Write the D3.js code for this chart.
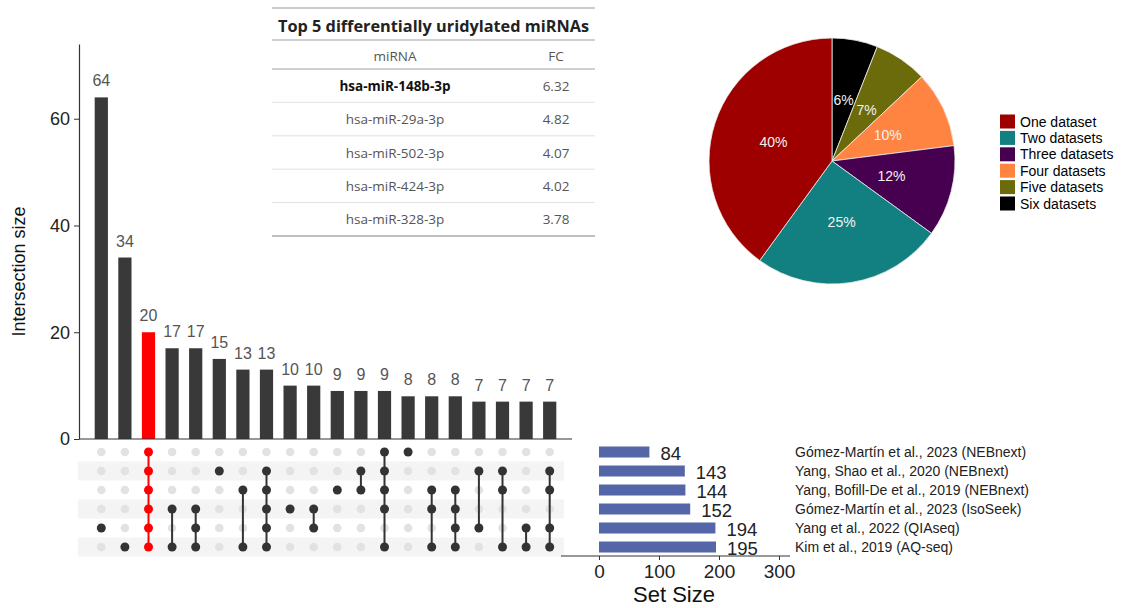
<!DOCTYPE html>
<html>
<head>
<meta charset="utf-8">
<script src="https://cdn.jsdelivr.net/npm/d3@7"></script>
<style>
  html, body { margin: 0; padding: 0; background: #fff; }
  svg { display: block; font-family: "Liberation Sans", Arial, sans-serif; }
</style>
</head>
<body>
<svg id="chart" width="1121" height="608"></svg>
<script>
// ---- data ----
const setNames = [
  "Gómez-Martín et al., 2023 (NEBnext)",
  "Yang, Shao et al., 2020 (NEBnext)",
  "Yang, Bofill-De et al., 2019 (NEBnext)",
  "Gómez-Martín et al., 2023 (IsoSeek)",
  "Yang et al., 2022 (QIAseq)",
  "Kim et al., 2019 (AQ-seq)"
];
const setSizes = [84, 143, 144, 152, 194, 195];

const intersectionSizes = [64, 34, 20, 17, 17, 15, 13, 13, 10, 10, 9, 9, 9, 8, 8, 8, 7, 7, 7, 7];
// member sets of each intersection (indices into setNames)
const intersectionMembers = [
  [4], [5], [0, 1, 2, 3, 4, 5], [3, 5], [3, 4, 5], [1], [2, 5], [1, 2, 3, 4, 5],
  [3], [3, 4], [2], [1, 2], [0, 1, 2, 3, 5], [0], [2, 3, 5], [2, 3, 4, 5],
  [1, 4], [1, 2, 5], [4, 5], [1, 2, 4, 5]
];
const highlightedIntersection = 2;
const intersectionTicks = [0, 20, 40, 60];
const setSizeTicks = [0, 100, 200, 300];

const tableTitle = "Top 5 differentially uridylated miRNAs";
const tableHeader = ["miRNA", "FC"];
const tableMiRNA = ["hsa-miR-148b-3p", "hsa-miR-29a-3p", "hsa-miR-502-3p", "hsa-miR-424-3p", "hsa-miR-328-3p"];
const tableFC = ["6.32", "4.82", "4.07", "4.02", "3.78"];

const pieLabels = ["One dataset", "Two datasets", "Three datasets", "Four datasets", "Five datasets", "Six datasets"];
const piePercents = [40, 25, 12, 10, 7, 6];
const pieColors = ["#9e0000", "#128080", "#470050", "#ff8442", "#6b6b0b", "#000000"];

// ---- layout ----
const svg = d3.select("#chart");
const barColor = "#393939";
const hiColor = "#ff0000";

// intersection bar chart
const x = d3.scaleBand().domain(d3.range(intersectionSizes.length)).range([89.5, 561.5]).padding(0);
const y = d3.scaleLinear().domain([0, 74]).range([439, 44]);
const barW = x.bandwidth() * 0.56;

const gBars = svg.append("g");
gBars.selectAll("rect").data(intersectionSizes).join("rect")
  .attr("x", (d, i) => x(i) + (x.bandwidth() - barW) / 2)
  .attr("y", d => y(d))
  .attr("width", barW)
  .attr("height", d => y(0) - y(d))
  .attr("fill", (d, i) => i === highlightedIntersection ? hiColor : barColor);
gBars.selectAll("text").data(intersectionSizes).join("text")
  .attr("x", (d, i) => x(i) + x.bandwidth() / 2)
  .attr("y", d => y(d) - 11)
  .attr("text-anchor", "middle")
  .attr("font-size", 16)
  .attr("fill", "#555")
  .text(d => d);

const yAxis = svg.append("g").attr("transform", "translate(79,0)")
  .call(d3.axisLeft(y).tickValues(intersectionTicks).tickSize(5).tickSizeOuter(0));
yAxis.select(".domain").attr("stroke", "#333").attr("stroke-width", 1.2);
yAxis.selectAll(".tick line").attr("stroke", "#333");
yAxis.selectAll(".tick text").attr("font-size", 18).attr("fill", "#222")
  .attr("font-family", "Liberation Sans, Arial, sans-serif").attr("x", -9);
// baseline of bar chart
svg.append("line").attr("x1", 79).attr("x2", 572).attr("y1", y(0)).attr("y2", y(0))
  .attr("stroke", "#333").attr("stroke-width", 1.2);

svg.append("text")
  .attr("transform", `translate(25,${(y(0) + y(74)) / 2 + 30}) rotate(-90)`)
  .attr("text-anchor", "middle").attr("font-size", 18).attr("fill", "#111")
  .text("Intersection size");

// matrix
const rowY = d3.scaleBand().domain(d3.range(setNames.length)).range([442.5, 556.5]);
const rowC = i => rowY(i) + rowY.bandwidth() / 2;
const gM = svg.append("g");
gM.selectAll("rect.stripe").data(d3.range(setNames.length).filter(i => i % 2 === 1)).join("rect")
  .attr("class", "stripe")
  .attr("x", 78).attr("width", 486)
  .attr("y", i => rowY(i)).attr("height", rowY.bandwidth())
  .attr("fill", "#f4f4f4");

intersectionMembers.forEach((mem, i) => {
  const cx = x(i) + x.bandwidth() / 2;
  const col = i === highlightedIntersection ? hiColor : "#333";
  d3.range(setNames.length).forEach(r => {
    if (!mem.includes(r)) {
      gM.append("circle").attr("cx", cx).attr("cy", rowC(r)).attr("r", 4.3).attr("fill", "#e2e2e2");
    }
  });
  if (mem.length > 1) {
    gM.append("line").attr("x1", cx).attr("x2", cx)
      .attr("y1", rowC(d3.min(mem))).attr("y2", rowC(d3.max(mem)))
      .attr("stroke", col).attr("stroke-width", 2);
  }
  mem.forEach(r => {
    gM.append("circle").attr("cx", cx).attr("cy", rowC(r)).attr("r", 4.5).attr("fill", col);
  });
});

// set size bars
const xs = d3.scaleLinear().domain([0, 300]).range([599, 779]);
const gS = svg.append("g");
gS.selectAll("rect").data(setSizes).join("rect")
  .attr("x", xs(0)).attr("y", (d, i) => rowC(i) - 5.5)
  .attr("width", d => xs(d) - xs(0)).attr("height", 11)
  .attr("fill", "#5566a8");
gS.selectAll("text.val").data(setSizes).join("text")
  .attr("class", "val")
  .attr("x", d => xs(d) + 11).attr("y", (d, i) => rowC(i) + 8)
  .attr("font-size", 18.5).attr("fill", "#222")
  .text(d => d);
gS.selectAll("text.name").data(setNames).join("text")
  .attr("class", "name")
  .attr("x", 795).attr("y", (d, i) => rowC(i) + 5)
  .attr("font-size", 14).attr("fill", "#222")
  .text(d => d);

const xsAxis = svg.append("g").attr("transform", "translate(0,556)")
  .call(d3.axisBottom(xs).tickValues(setSizeTicks).tickSize(4).tickSizeOuter(0));
xsAxis.select(".domain").remove();
xsAxis.selectAll(".tick line").attr("stroke", "#333");
xsAxis.selectAll(".tick text").attr("font-size", 19).attr("fill", "#222")
  .attr("font-family", "Liberation Sans, Arial, sans-serif").attr("y", 9);
svg.append("line").attr("x1", 561).attr("x2", 790).attr("y1", 556).attr("y2", 556)
  .attr("stroke", "#333").attr("stroke-width", 1.2);
svg.append("text").attr("x", xs(125)).attr("y", 602).attr("text-anchor", "middle")
  .attr("font-size", 22).attr("fill", "#111").text("Set Size");

// table
const gT = svg.append("g").attr("font-family", "'Open Sans', 'Noto Sans', sans-serif");
const tX0 = 272, tX1 = 595;
const colMi = 395, colFC = 556;
gT.append("rect").attr("x", tX0).attr("y", 8).attr("width", tX1 - tX0).attr("height", 228).attr("fill", "#fff");
gT.append("line").attr("x1", tX0).attr("x2", tX1).attr("y1", 8).attr("y2", 8).attr("stroke", "#bbb").attr("stroke-width", 1.5);
gT.append("text").attr("x", (tX0 + tX1) / 2).attr("y", 32).attr("text-anchor", "middle")
  .attr("font-size", 16.3).attr("font-weight", 700).attr("fill", "#222").text(tableTitle);
gT.append("line").attr("x1", tX0).attr("x2", tX1).attr("y1", 40).attr("y2", 40).attr("stroke", "#d0d0d0").attr("stroke-width", 2);
gT.append("text").attr("x", colMi).attr("y", 61).attr("text-anchor", "middle")
  .attr("font-size", 13.5).attr("fill", "#555").text(tableHeader[0]);
gT.append("text").attr("x", colFC).attr("y", 61).attr("text-anchor", "middle")
  .attr("font-size", 13.5).attr("fill", "#555").text(tableHeader[1]);
gT.append("line").attr("x1", tX0).attr("x2", tX1).attr("y1", 69).attr("y2", 69).attr("stroke", "#d0d0d0").attr("stroke-width", 2);
const rowT = d3.scaleBand().domain(d3.range(tableMiRNA.length)).range([69, 236]);
tableMiRNA.forEach((m, i) => {
  const cy = rowT(i) + rowT.bandwidth() / 2;
  gT.append("text").attr("x", colMi).attr("y", cy + 5).attr("text-anchor", "middle")
    .attr("font-size", 13.5).attr("font-weight", i === 0 ? 700 : 400)
    .attr("fill", i === 0 ? "#111" : "#555").text(m);
  gT.append("text").attr("x", colFC).attr("y", cy + 5).attr("text-anchor", "middle")
    .attr("font-size", 13.5).attr("fill", "#555").text(tableFC[i]);
  const ly = rowT(i) + rowT.bandwidth();
  gT.append("line").attr("x1", tX0).attr("x2", tX1).attr("y1", ly).attr("y2", ly)
    .attr("stroke", i === tableMiRNA.length - 1 ? "#aaa" : "#e2e2e2")
    .attr("stroke-width", i === tableMiRNA.length - 1 ? 1.5 : 1);
});

// pie
const pieData = d3.range(pieLabels.length).reverse().map(i => ({label: pieLabels[i], value: piePercents[i], color: pieColors[i]}));
const pie = d3.pie().sort(null).value(d => d.value);
const R = 123;
const arc = d3.arc().innerRadius(0).outerRadius(R);
const labelArc = d3.arc().innerRadius(R * 0.5).outerRadius(R * 0.5);
const gP = svg.append("g").attr("transform", "translate(832,161)");
gP.selectAll("path").data(pie(pieData)).join("path")
  .attr("d", arc).attr("fill", d => d.data.color)
  .attr("stroke", "#eee").attr("stroke-width", 0.8);
gP.selectAll("text").data(pie(pieData)).join("text")
  .attr("transform", d => `translate(${labelArc.centroid(d)})`)
  .attr("text-anchor", "middle").attr("dy", "0.35em")
  .attr("font-size", 14).attr("fill", "#f2f2f2")
  .text(d => d.data.value + "%");

// legend
const gL = svg.append("g");
pieLabels.forEach((l, i) => {
  const ly = 121.5 + i * 16.4;
  gL.append("rect").attr("x", 1000).attr("y", ly - 7).attr("width", 15).attr("height", 14).attr("fill", pieColors[i]);
  gL.append("text").attr("x", 1020).attr("y", ly + 5).attr("font-size", 14).attr("fill", "#000").text(l);
});
</script>
</body>
</html>
